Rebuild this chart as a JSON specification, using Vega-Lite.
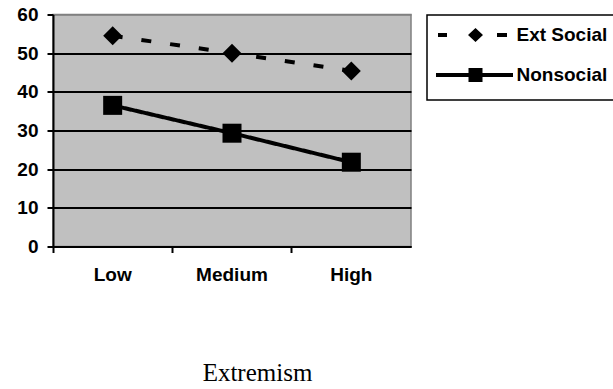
{
  "$schema": "https://vega.github.io/schema/vega-lite/v6.json",
  "autosize": "none",
  "width": 358,
  "height": 232,
  "padding": {"left": 53, "top": 14.5, "right": 202, "bottom": 142.5},
  "background": "white",
  "config": {
    "view": {"fill": "#C0C0C0", "stroke": "#808080", "strokeWidth": 1.5},
    "axis": {
      "labelFont": "Liberation Sans",
      "labelFontWeight": "bold",
      "labelFontSize": 19,
      "labelColor": "black",
      "domainColor": "black",
      "domainWidth": 2,
      "tickColor": "black",
      "tickWidth": 2,
      "tickSize": 6
    },
    "legend": {"strokeWidth": 1.5}
  },
  "data": {
    "values": [
      {"series": "Ext Social", "level": "Low", "value": 54.5},
      {"series": "Ext Social", "level": "Medium", "value": 50.0},
      {"series": "Ext Social", "level": "High", "value": 45.4},
      {"series": "Nonsocial", "level": "Low", "value": 36.5},
      {"series": "Nonsocial", "level": "Medium", "value": 29.3},
      {"series": "Nonsocial", "level": "High", "value": 21.8}
    ]
  },
  "encoding": {
    "x": {
      "field": "level",
      "type": "nominal",
      "sort": ["Low", "Medium", "High"],
      "scale": {"type": "band", "paddingInner": 0, "paddingOuter": 0},
      "axis": {
        "labelAngle": 0,
        "labelPadding": 13,
        "bandPosition": 0,
        "title": "Extremism",
        "titleFont": "Liberation Serif",
        "titleFontWeight": "normal",
        "titleFontSize": 25,
        "titleColor": "black",
        "titleX": 204,
        "titleY": 133.5,
        "titleBaseline": "alphabetic"
      }
    },
    "y": {
      "field": "value",
      "type": "quantitative",
      "scale": {"domain": [0, 60], "nice": false},
      "axis": {
        "values": [0, 10, 20, 30, 40, 50, 60],
        "title": null,
        "labelPadding": 9,
        "grid": true,
        "gridColor": {"condition": {"test": "datum.value === 60", "value": "#808080"}, "value": "black"},
        "gridWidth": {"condition": {"test": "datum.value === 60", "value": 1.5}, "value": 2}
      }
    }
  },
  "resolve": {"scale": {"shape": "independent"}},
  "layer": [
    {
      "mark": {"type": "line", "color": "black", "strokeWidth": 4},
      "encoding": {
        "detail": {"field": "series", "type": "nominal"},
        "strokeDash": {
          "field": "series",
          "type": "nominal",
          "scale": {"domain": ["Nonsocial", "Ext Social"], "range": [[1, 0], [10, 19]]},
          "legend": null
        }
      }
    },
    {
      "mark": {"type": "point", "filled": true, "color": "black", "opacity": 1, "size": 361},
      "encoding": {
        "shape": {
          "field": "series",
          "type": "nominal",
          "scale": {"domain": ["Nonsocial", "Ext Social"], "range": ["square", "diamond"]},
          "legend": null
        }
      }
    },
    {
      "mark": {"type": "point", "filled": true, "color": "black", "opacity": 1, "size": 0},
      "encoding": {
        "shape": {
          "field": "series",
          "type": "nominal",
          "scale": {
            "domain": ["Ext Social", "Nonsocial"],
            "range": [
              "M-3.75,-0.2H-2.85V0.2H-3.75Z M-0.75,0L0,-0.7L0.75,0L0,0.7Z M2.15,-0.2H3.15V0.2H2.15Z",
              "M-3.95,-0.2H3.75V0.2H-3.95Z M-0.7,-0.7H0.7V0.7H-0.7Z"
            ]
          },
          "legend": {
            "orient": "none",
            "legendX": 374,
            "legendY": 0.5,
            "title": " ",
            "titleOrient": "bottom",
            "titleFontSize": 1,
            "titlePadding": 4,
            "padding": 10,
            "strokeColor": "black",
            "fillColor": "white",
            "rowPadding": 20,
            "symbolOffset": 28.5,
            "labelOffset": 31,
            "labelExpr": "datum.label + '    '",
            "symbolSize": 400,
            "symbolStrokeWidth": 0,
            "symbolFillColor": "black",
            "symbolOpacity": 1,
            "labelFont": "Liberation Sans",
            "labelFontSize": 19,
            "labelFontWeight": "bold",
            "labelColor": "black"
          }
        }
      }
    }
  ]
}
